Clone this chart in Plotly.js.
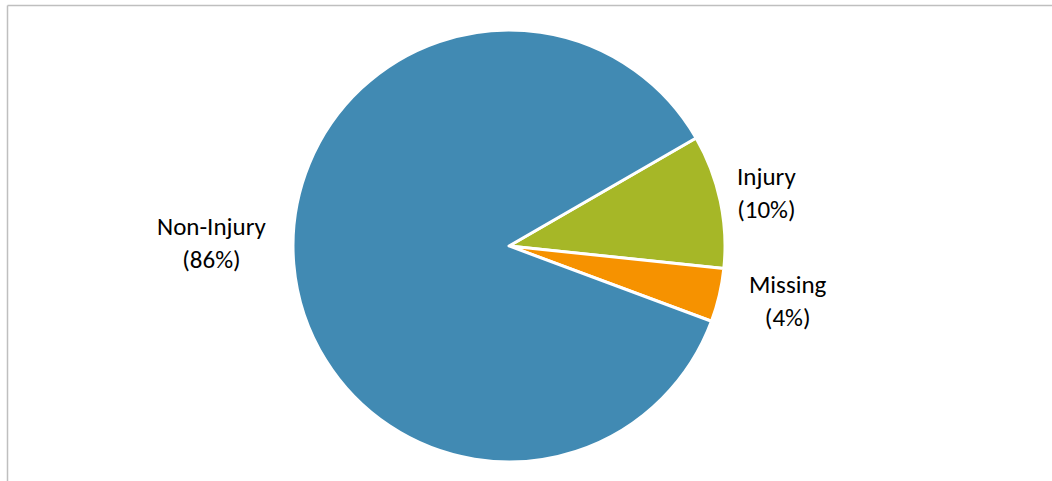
<!DOCTYPE html>
<html>
<head>
<meta charset="utf-8">
<script src="https://cdn.plot.ly/plotly-3.0.1.min.js"></script>
<style>html,body{margin:0;padding:0;background:#fff;}#chart{width:1052px;height:481px;}</style>
</head>
<body>
<div id="chart"></div>
<script>
const categories = ['Injury', 'Missing', 'Non-Injury'];
const values = [10, 4, 86];
const colors = ['#a6b727', '#f69200', '#418ab3'];

const W = 1052, H = 481;
// label anchor positions in pixels (style only)
const labelPx = [[766, 193], [788, 301], [211, 243]];
const fontFamily = 'Carlito, Lato, "Liberation Sans", sans-serif';

const total = values.reduce((a, b) => a + b, 0);

const trace = {
  type: 'pie',
  labels: categories,
  values: values,
  sort: false,
  direction: 'clockwise',
  rotation: 60,
  marker: { colors: colors, line: { color: '#ffffff', width: 3 } },
  textposition: 'none',
  hoverinfo: 'label+percent',
  showlegend: false,
  automargin: false,
  domain: { x: [0.2785, 0.6892], y: [0.0396, 0.9377] }
};

const annotations = categories.map((c, i) => ({
  xref: 'paper', yref: 'paper',
  x: labelPx[i][0] / W, y: 1 - labelPx[i][1] / H,
  xanchor: 'center', yanchor: 'middle',
  showarrow: false, align: 'center',
  text: c + '<br>(' + Math.round(values[i] / total * 100) + '%)',
  font: { family: fontFamily, size: 25, color: '#000000' }
}));

const layout = {
  width: W, height: H,
  margin: { l: 0, r: 0, t: 0, b: 0 },
  paper_bgcolor: '#ffffff',
  showlegend: false,
  annotations: annotations,
  shapes: [
    { type: 'line', xref: 'paper', yref: 'paper', x0: 7.5/W, x1: 1, y0: 1 - 5.5/H, y1: 1 - 5.5/H, line: { color: '#bfbfbf', width: 1.5 } },
    { type: 'line', xref: 'paper', yref: 'paper', x0: 7.5/W, x1: 7.5/W, y0: 0, y1: 1 - 5.5/H, line: { color: '#bfbfbf', width: 1.5 } }
  ]
};

Plotly.newPlot('chart', [trace], layout, { displayModeBar: false, staticPlot: true });
</script>
</body>
</html>
